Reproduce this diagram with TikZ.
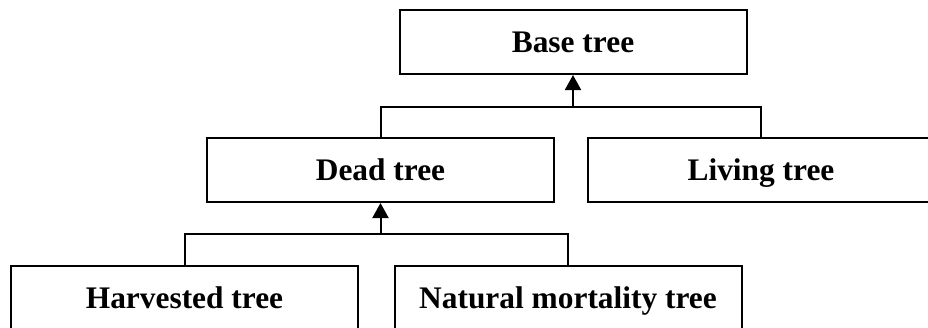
\documentclass[tikz,border=0pt]{standalone}
\usepackage{fontspec}
\setmainfont{Liberation Serif}
\usetikzlibrary{arrows.meta}
\begin{document}
\begin{tikzpicture}[x=1pt,y=-1pt,
  box/.style={draw,line width=2pt,inner sep=0pt,minimum width=347pt,minimum height=64pt,
    text height=21pt,text depth=0pt,font=\fontsize{31.4}{36}\selectfont\bfseries},
  conn/.style={line width=2pt},
  arr/.style={conn,-{Triangle[length=15pt,width=16pt]}}]
\useasboundingbox (0,0) rectangle (928,327);
\node[box] (base) at (573,42) {Base tree};
\node[box] (dead) at (380.5,170) {Dead tree};
\node[box] (living) at (761,170) {Living tree};
\node[box] (harv) at (184.5,298) {Harvested tree};
\node[box] (nat) at (568,298) {Natural mortality tree};
\coordinate (j1) at (573,107);
\coordinate (j2) at (380.5,234);
\draw[conn] (dead.north) |- (j1) -| (living.north);
\draw[arr] (j1) -- (base.south);
\draw[conn] (harv.north) |- (j2) -| (nat.north);
\draw[arr] (j2) -- (dead.south);
\end{tikzpicture}
\end{document}
